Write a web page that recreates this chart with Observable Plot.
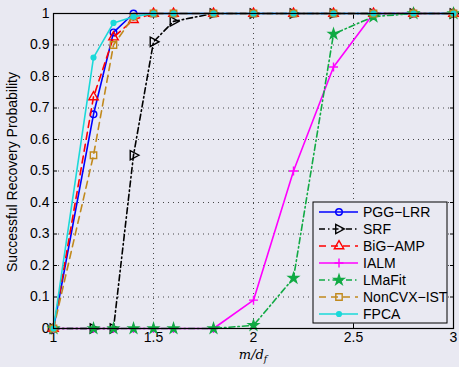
<!DOCTYPE html>
<html><head><meta charset="utf-8">
<script src="https://cdn.jsdelivr.net/npm/d3@7"></script>
<script src="https://cdn.jsdelivr.net/npm/@observablehq/plot@0.6"></script>
<style>
html,body{margin:0;padding:0;background:#e9e9f2;}
#chart{position:relative;width:459px;height:367px;}
svg{font-family:"Liberation Sans",Arial,sans-serif;}
</style></head><body><div id="chart"></div>
<script>
// ---- data ----
const ratio = [1, 1.2, 1.3, 1.4, 1.5, 1.6, 1.8, 2.0, 2.2, 2.4, 2.6, 2.8, 3.0];
const seriesNames = ["PGG\u2212LRR", "SRF", "BiG\u2212AMP", "IALM", "LMaFit", "NonCVX\u2212IST", "FPCA"];
const pggLrr   = [0, 0.68, 0.94, 1, 1, 1, 1, 1, 1, 1, 1, 1, 1];
const srf      = [0, 0, 0, 0.55, 0.91, 0.975, 1, 1, 1, 1, 1, 1, 1];
const bigAmp   = [0, 0.735, 0.925, 0.98, 1, 1, 1, 1, 1, 1, 1, 1, 1];
const ialm     = [0, 0, 0, 0, 0, 0, 0, 0.09, 0.5, 0.83, 1, 1, 1];
const lmafit   = [0, 0, 0, 0, 0, 0, 0, 0.01, 0.16, 0.935, 0.99, 1, 1];
const noncvx   = [0, 0.55, 0.90, 0.99, 1, 1, 1, 1, 1, 1, 1, 1, 1];
const fpca     = [0, 0.86, 0.97, 0.99, 1, 1, 1, 1, 1, 1, 1, 1, 1];
const xTicks = [1, 1.5, 2, 2.5, 3];
const yTicks = [0, 0.1, 0.2, 0.3, 0.4, 0.5, 0.6, 0.7, 0.8, 0.9, 1];
const xLabel = "m/d";
const xLabelSub = "f";
const yLabel = "Successful Recovery Probability";

// ---- styles ----
const triRight = {
  draw(ctx, size) {
    const r = Math.sqrt(size / 1.3);
    ctx.moveTo(r, 0);
    ctx.lineTo(-r * 0.6, r * 0.85);
    ctx.lineTo(-r * 0.6, -r * 0.85);
    ctx.closePath();
  }
};
const styles = [
  {color: "#0000ff", dash: null,        symbol: "circle",   r: 3.3, fill: "none"},
  {color: "#000000", dash: "6,3,1.5,3", symbol: triRight,   r: 3.5, fill: "none"},
  {color: "#ff0000", dash: "7,5",       symbol: "triangle", r: 3.5, fill: "none"},
  {color: "#ff00ff", dash: null,        symbol: "plus",     r: 3.0, fill: "none"},
  {color: "#11aa44", dash: "6,3,1.5,3", symbol: "star",     r: 3.1, fill: "#11aa44"},
  {color: "#c1891c", dash: "7,5",       symbol: "square",   r: 3.6, fill: "none"},
  {color: "#1ad9d9", dash: null,        symbol: "circle",   r: 2.4, fill: "#1ad9d9"}
];
const allValues = [pggLrr, srf, bigAmp, ialm, lmafit, noncvx, fpca];
const rows = allValues.map((vals, s) => ratio.map((x, i) => ({x, y: vals[i], s})));

const marks = [
  Plot.gridX(xTicks.slice(1, -1), {stroke: "#000", strokeOpacity: 0.7, strokeDasharray: "1,4"}),
  Plot.gridY(yTicks.slice(1, -1), {stroke: "#000", strokeOpacity: 0.7, strokeDasharray: "1,4"}),
  Plot.axisX({ticks: xTicks, tickSize: 0, tickPadding: 4, fontSize: 14, label: null, tickFormat: d => String(d)}),
  Plot.axisY({ticks: yTicks, tickSize: 0, tickPadding: 4, fontSize: 14, label: null, tickFormat: d => String(d)}),
  Plot.axisX({ticks: xTicks, anchor: "bottom", tickSize: 4, dy: -4, tickFormat: () => "", label: null}),
  Plot.axisX({ticks: xTicks, anchor: "top", tickSize: 4, dy: 4, tickFormat: () => "", label: null}),
  Plot.axisY({ticks: yTicks, anchor: "left", tickSize: 4, dx: 4, tickFormat: () => "", label: null}),
  Plot.axisY({ticks: yTicks, anchor: "right", tickSize: 4, dx: -4, tickFormat: () => "", label: null}),
];
rows.forEach((data, s) => {
  const st = styles[s];
  marks.push(Plot.line(data, {x: "x", y: "y", stroke: st.color, strokeWidth: 1.6, strokeDasharray: st.dash}));
  marks.push(Plot.dot(data, {x: "x", y: "y", symbol: () => st.symbol, r: st.r, stroke: st.color, fill: st.fill, strokeWidth: 1.4}));
});
marks.push(Plot.frame({stroke: "#000", strokeWidth: 1.2}));

const plot = Plot.plot({
  width: 459, height: 367,
  marginLeft: 53, marginRight: 6, marginTop: 13, marginBottom: 39,
  style: {background: "transparent", fontFamily: "Liberation Sans, Arial, sans-serif", fontSize: "14px", color: "#000"},
  x: {domain: [1, 3]},
  y: {domain: [0, 1]},
  symbol: {type: "identity"},
  marks
});
document.getElementById("chart").appendChild(plot);

// ---- axis titles & legend ----
const svg = d3.select(plot);
svg.append("text")
  .attr("transform", "translate(17,172) rotate(-90)")
  .attr("text-anchor", "middle")
  .attr("font-size", 14)
  .attr("font-family", "Liberation Sans, Arial, sans-serif")
  .text(yLabel);
const xt = svg.append("text")
  .attr("x", 253).attr("y", 359)
  .attr("text-anchor", "middle")
  .attr("font-size", 13)
  .attr("font-style", "italic")
  .attr("font-family", "DejaVu Serif, Liberation Serif, serif");
xt.append("tspan").text(xLabel);
xt.append("tspan").attr("dy", 3).attr("font-size", 9).text(xLabelSub);

const lg = svg.append("g").attr("transform", "translate(313,202)");
lg.append("rect").attr("width", 134).attr("height", 121).attr("fill", "#e9e9f2").attr("stroke", "#000").attr("stroke-width", 1);
const symMap = {circle: d3.symbolCircle, triangle: d3.symbolTriangle, plus: d3.symbolPlus, star: d3.symbolStar, square: d3.symbolSquare};
seriesNames.forEach((name, i) => {
  const st = styles[i];
  const y = 10 + i * 17;
  const g = lg.append("g").attr("transform", `translate(0,${y})`);
  g.append("line").attr("x1", 6).attr("x2", 45).attr("y1", 0).attr("y2", 0)
    .attr("stroke", st.color).attr("stroke-width", 1.6).attr("stroke-dasharray", st.dash);
  const type = typeof st.symbol === "string" ? symMap[st.symbol] : st.symbol;
  g.append("path").attr("transform", "translate(26,0)")
    .attr("d", d3.symbol(type, Math.PI * st.r * st.r)())
    .attr("stroke", st.color).attr("fill", st.fill).attr("stroke-width", 1.4);
  g.append("text").attr("x", 50).attr("y", 0).attr("dy", "0.35em")
    .attr("text-anchor", "start")
    .attr("font-size", 14).attr("font-family", "Liberation Sans, Arial, sans-serif").text(name);
});
</script>
</body></html>
